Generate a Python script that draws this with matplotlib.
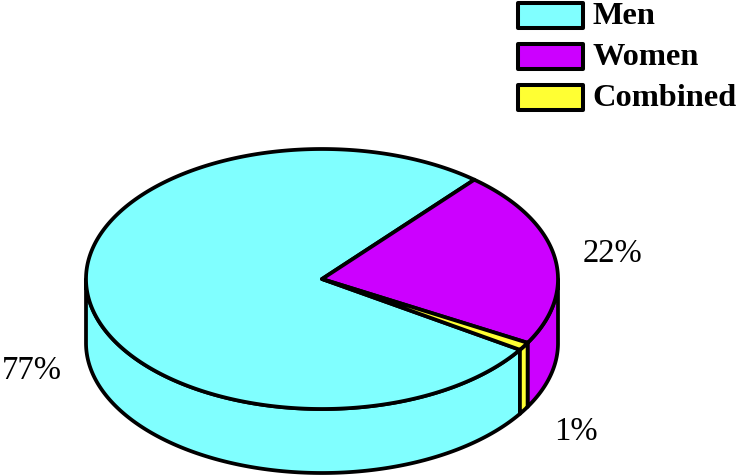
import numpy as np
import matplotlib
matplotlib.use('Agg')
import matplotlib.pyplot as plt
from matplotlib.patches import Polygon, Rectangle

plt.rcParams['font.family'] = ['Liberation Serif', 'DejaVu Serif']

categories = ['Men', 'Women', 'Combined']
shares = [77, 22, 1]
pct_labels = ['77%', '22%', '1%']
colors = ['#80FFFF', '#CC00FF', '#FFFF33']

cx, cy = 322, 279
rx, ry = 236, 130
depth = 64
start_angle = -33


def rim(a0, a1, n=200):
    t = np.radians(np.linspace(a0, a1, n))
    return cx + rx * np.cos(t), cy - ry * np.sin(t)


fig = plt.figure(figsize=(7.38, 4.76), dpi=100)
ax = fig.add_axes([0, 0, 1, 1])
ax.set_xlim(0, 738)
ax.set_ylim(476, 0)
ax.axis('off')

# slices go clockwise from the start angle
edges = start_angle - np.cumsum([0] + shares) * 3.6

# side walls first, only the front half of the rim is visible
for i, color in enumerate(colors):
    a0, a1 = edges[i], edges[i + 1]
    for shift in (0, -360):
        b0 = max(a1 - shift, -180)
        b1 = min(a0 - shift, 0)
        if b1 > b0:
            x, y = rim(b0, b1)
            wall = np.r_[np.c_[x, y], np.c_[x, y + depth][::-1]]
            ax.add_patch(Polygon(wall, closed=True, fc=color, ec='black', lw=2.7, joinstyle='round'))

# top faces
for i, color in enumerate(colors):
    x, y = rim(edges[i], edges[i + 1], 400)
    top = np.r_[[[cx, cy]], np.c_[x, y]]
    ax.add_patch(Polygon(top, closed=True, fc=color, ec='black', lw=2.7, joinstyle='round'))

ax.text(32, 371, pct_labels[0], fontsize=23.5, ha='center', va='center')
ax.text(612, 254, pct_labels[1], fontsize=23.5, ha='center', va='center')
ax.text(576, 432, pct_labels[2], fontsize=23.5, ha='center', va='center')

# legend
for i, name in enumerate(categories):
    ly = 15 + i * 41
    ax.add_patch(Rectangle((518, ly - 12), 65, 25, fc=colors[i], ec='black', lw=2.9, joinstyle='round'))
    ax.text(592.5, ly + 1.5, name, fontsize=23.3, fontweight='bold', ha='left', va='center')

fig.savefig('out.png', dpi=100)
